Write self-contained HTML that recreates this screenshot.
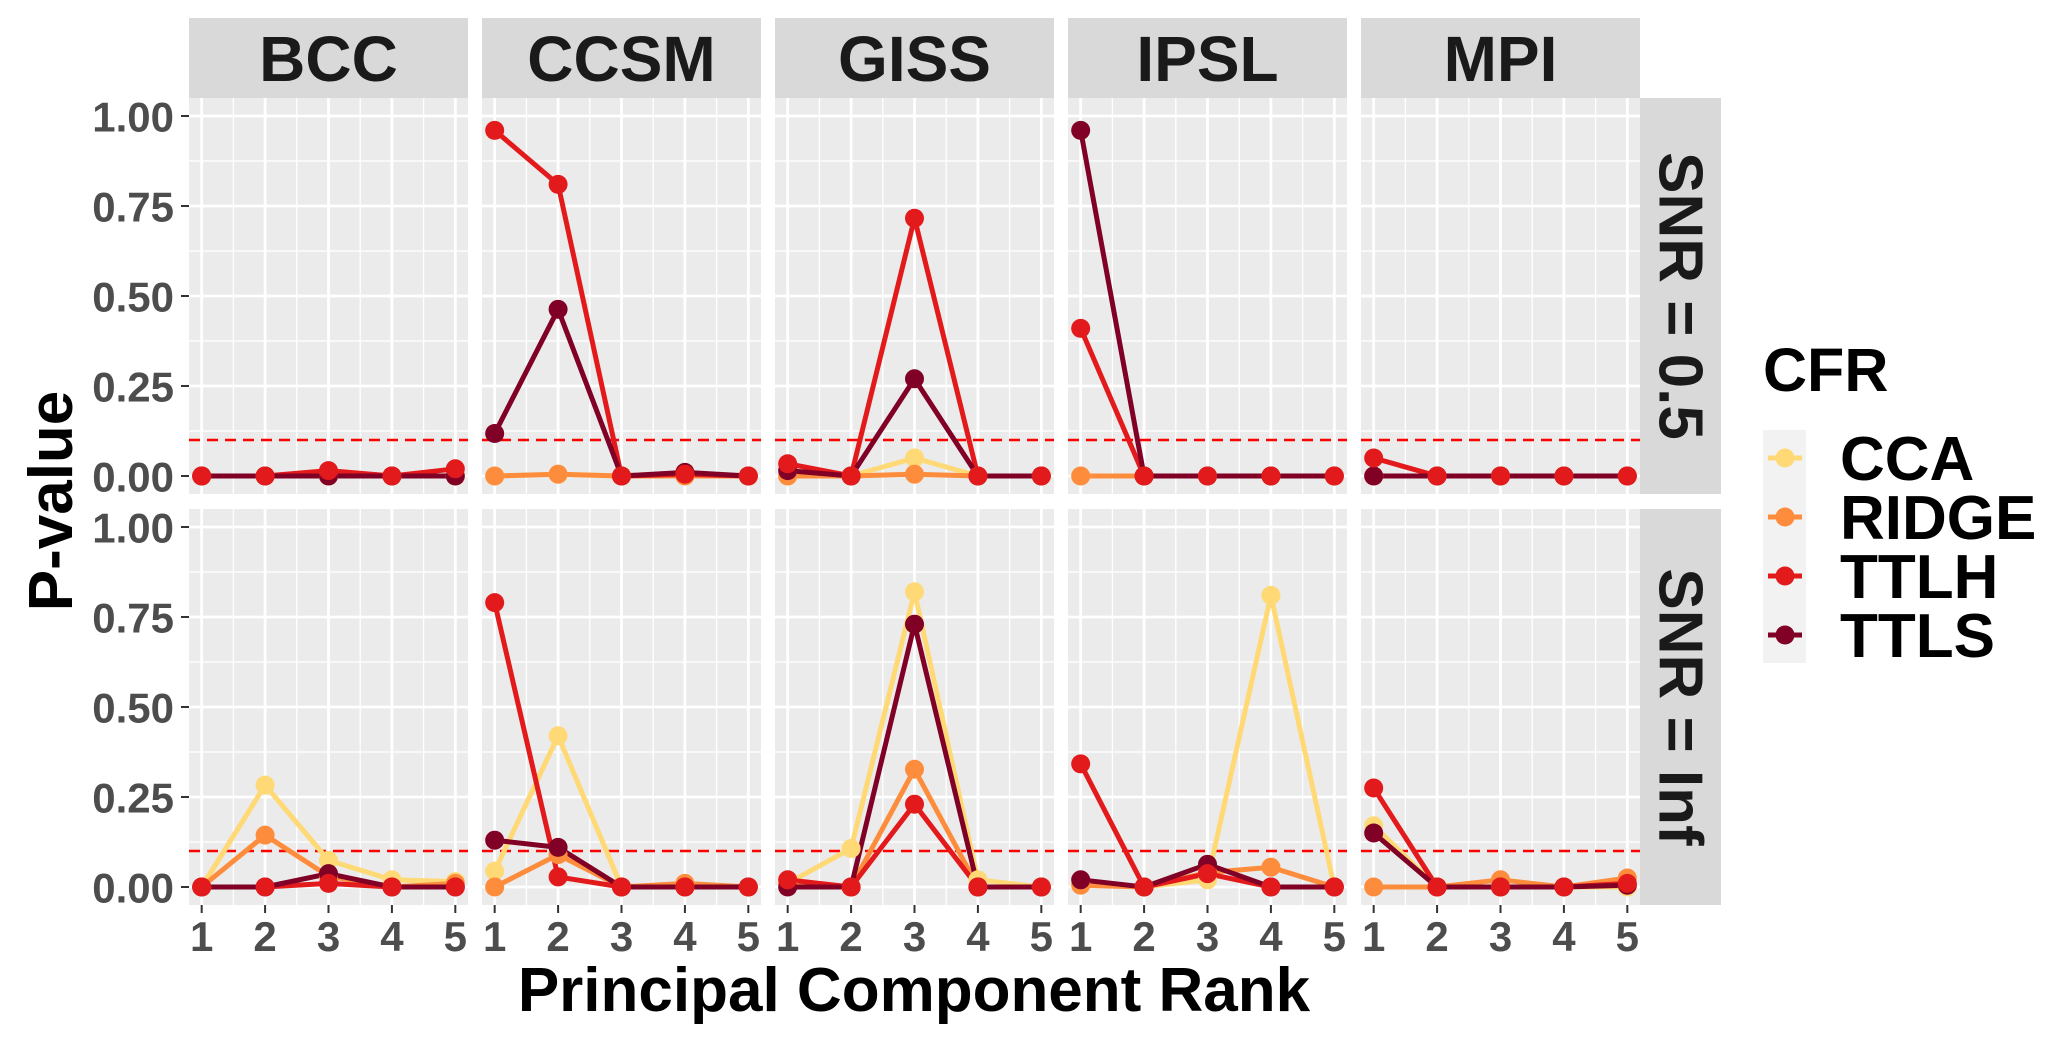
<!DOCTYPE html>
<html><head><meta charset="utf-8"><style>
html,body{margin:0;padding:0;background:#fff;}
svg{display:block;font-family:"Liberation Sans",Arial,sans-serif;font-weight:bold;}
</style></head><body>
<svg id="chart" width="2067" height="1045" viewBox="0 0 2067 1045" xmlns="http://www.w3.org/2000/svg"></svg>
<script>
const models = ["BCC","CCSM","GISS","IPSL","MPI"];
const snrRows = ["SNR = 0.5","SNR = Inf"];
const methods = ["CCA","RIDGE","TTLH","TTLS"];
const methodColors = ["#FED976","#FD8D3C","#E31A1C","#800026"];
const ranks = [1,2,3,4,5];
const yTicks = [0,0.25,0.5,0.75,1];
const yTickLabels = ["0.00","0.25","0.50","0.75","1.00"];
const threshold = 0.1;
// values[row][model][method] = p-values for ranks 1..5
const snr05_BCC  = [[0,0,0,0,0],[0,0,0,0,0],[0,0,0.015,0,0.02],[0,0,0,0,0]];
const snr05_CCSM = [[0,0.005,0,0,0],[0,0.005,0,0,0],[0.96,0.81,0,0.005,0],[0.118,0.463,0,0.01,0]];
const snr05_GISS = [[0,0,0.05,0,0],[0,0,0.005,0,0],[0.034,0,0.716,0,0],[0.015,0,0.27,0,0]];
const snr05_IPSL = [[0,0,0,0,0],[0,0,0,0,0],[0.41,0,0,0,0],[0.96,0,0,0,0]];
const snr05_MPI  = [[0,0,0,0,0],[0,0,0,0,0],[0.05,0,0,0,0],[0,0,0,0,0]];
const snrInf_BCC  = [[0,0.283,0.074,0.02,0.015],[0,0.144,0.03,0,0.01],[0,0,0.01,0,0],[0,0,0.037,0,0]];
const snrInf_CCSM = [[0.044,0.42,0,0,0],[0,0.09,0,0.01,0],[0.79,0.028,0,0,0],[0.13,0.11,0,0,0]];
const snrInf_GISS = [[0.01,0.107,0.82,0.02,0],[0.01,0,0.327,0,0],[0.02,0,0.23,0,0],[0,0,0.73,0,0]];
const snrInf_IPSL = [[0.01,0,0.02,0.81,0],[0.005,0,0.04,0.055,0],[0.342,0,0.037,0,0],[0.02,0,0.063,0,0]];
const snrInf_MPI  = [[0.17,0,0,0,0],[0,0,0.02,0,0.025],[0.275,0,0,0,0.01],[0.15,0,0,0,0.005]];
const data = [[snr05_BCC,snr05_CCSM,snr05_GISS,snr05_IPSL,snr05_MPI],[snrInf_BCC,snrInf_CCSM,snrInf_GISS,snrInf_IPSL,snrInf_MPI]];

const NS="http://www.w3.org/2000/svg";
const svg=document.getElementById('chart');
function mk(tag,attrs,parent){const e=document.createElementNS(NS,tag);for(const k in attrs)e.setAttribute(k,attrs[k]);(parent||svg).appendChild(e);return e;}

const panelX0=189, panelPitch=293, panelW=279;
const rowTop=[98,509], panelH=396;
function xScale(c,v){const x0=panelX0+c*panelPitch;return x0+panelW*((v-1)+0.2)/4.4;}
function yScale(r,v){return rowTop[r]+panelH*(1.05-v)/1.1;}

models.forEach((m,c)=>{
  const x0=panelX0+c*panelPitch;
  const s=mk('rect',{x:x0,y:18,width:panelW,height:80,fill:'#D9D9D9'});
  
  
  const t=mk('text',{x:x0+panelW/2,y:81,'text-anchor':'middle','font-size':64,fill:'#1A1A1A'});
  t.textContent=m;
  
  
});
snrRows.forEach((lab,r)=>{
  const s=mk('rect',{x:1640,y:rowTop[r],width:81,height:panelH,fill:'#D9D9D9'});
  
  
  const cy=rowTop[r]+panelH/2;
  const t=mk('text',{x:1680,y:cy,'text-anchor':'middle','dominant-baseline':'central','font-size':62,fill:'#1A1A1A',transform:'rotate(90 1680 '+cy+')'});
  t.textContent=lab;
  
  
});

for(let r=0;r<2;r++){
  for(let c=0;c<5;c++){
    const x0=panelX0+c*panelPitch, y0=rowTop[r];
    const g=mk('g',{});
    
    
    mk('rect',{x:x0,y:y0,width:panelW,height:panelH,fill:'#EBEBEB'},g);
    for(let v=0.125;v<1.1;v+=0.25){mk('line',{x1:x0,x2:x0+panelW,y1:yScale(r,v),y2:yScale(r,v),stroke:'#fff','stroke-width':1.3},g);}
    for(let v=1.5;v<5;v+=1){mk('line',{x1:xScale(c,v),x2:xScale(c,v),y1:y0,y2:y0+panelH,stroke:'#fff','stroke-width':1.3},g);}
    yTicks.forEach(v=>mk('line',{x1:x0,x2:x0+panelW,y1:yScale(r,v),y2:yScale(r,v),stroke:'#fff','stroke-width':2.8},g));
    ranks.forEach(v=>mk('line',{x1:xScale(c,v),x2:xScale(c,v),y1:y0,y2:y0+panelH,stroke:'#fff','stroke-width':2.8},g));
    const d=mk('line',{x1:x0,x2:x0+panelW,y1:yScale(r,threshold),y2:yScale(r,threshold),stroke:'#FF0000','stroke-width':2.4,'stroke-dasharray':'11 7'},g);
    
    
    const vals=data[r][c];
    const lineOrder=[0,1,2,3], ptOrder=[0,1,3,2];
    lineOrder.forEach(k=>{
      const pts=ranks.map((x,i)=>xScale(c,x)+','+yScale(r,vals[k][i])).join(' ');
      const pl=mk('polyline',{points:pts,fill:'none',stroke:methodColors[k],'stroke-width':5,'stroke-linejoin':'round'},g);
      
      
    });
    ptOrder.forEach(k=>{
      ranks.forEach((x,i)=>{
        const p=mk('circle',{cx:xScale(c,x),cy:yScale(r,vals[k][i]),r:9.5,fill:methodColors[k]},g);
        
        
      });
    });
  }
  yTicks.forEach((v,i)=>{
    const y=yScale(r,v);
    mk('line',{x1:181,x2:189,y1:y,y2:y,stroke:'#333','stroke-width':2});
    const t=mk('text',{x:174,y:y+1,'text-anchor':'end','dominant-baseline':'central','font-size':42,fill:'#4D4D4D'});
    t.textContent=yTickLabels[i];
    
    
  });
}
for(let c=0;c<5;c++){
  ranks.forEach(v=>{
    const x=xScale(c,v);
    mk('line',{x1:x,x2:x,y1:905,y2:913,stroke:'#333','stroke-width':2});
    const t=mk('text',{x:x,y:951,'text-anchor':'middle','font-size':42,fill:'#4D4D4D'});
    t.textContent=String(v);
    
    
  });
}
const xt=mk('text',{x:914,y:1011,'text-anchor':'middle','font-size':62,fill:'#000'});
xt.textContent='Principal Component Rank';


const yt=mk('text',{x:0,y:0,'text-anchor':'middle','font-size':62,fill:'#000',transform:'translate(72 501) rotate(-90)'});
yt.textContent='P-value';



const lg=mk('g',{});


const lt=mk('text',{x:1763,y:391,'font-size':61,fill:'#000'},lg);
lt.textContent='CFR';


mk('rect',{x:1763,y:430,width:43,height:233,fill:'#F2F2F2'},lg);
methods.forEach((m,k)=>{
  const cy=458+k*59;
  const e=mk('g',{},lg);
  
  
  mk('line',{x1:1768,x2:1802,y1:cy,y2:cy,stroke:methodColors[k],'stroke-width':5},e);
  mk('circle',{cx:1785,cy:cy,r:9.5,fill:methodColors[k]},e);
  const t=mk('text',{x:1840,y:cy+22,'font-size':62,fill:'#000'},e);
  t.textContent=m;
});
</script>
</body></html>
